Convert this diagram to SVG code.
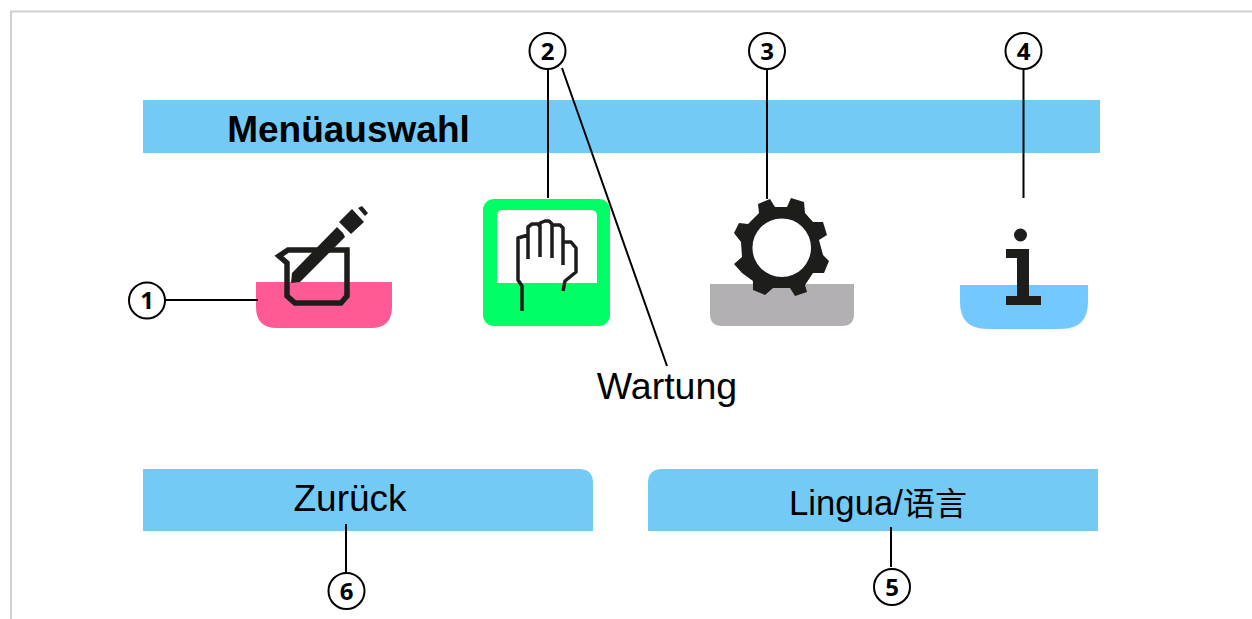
<svg xmlns="http://www.w3.org/2000/svg" width="1252" height="619" viewBox="0 0 1252 619">
<style>
.bar{fill:#73caf5}
.ic{fill:#1d1d1b}
.ol{fill:none;stroke:#1d1d1b;stroke-width:5.5;stroke-linejoin:miter}
.hand{fill:none;stroke:#1d1d1b;stroke-width:3.500;stroke-linejoin:round}
.cn{fill:none;stroke:#000;stroke-width:2}
.c{fill:#fff;stroke:#000;stroke-width:2}
.n{font-family:"Open Sans","Liberation Sans",sans-serif;font-weight:700;font-size:24px;text-anchor:middle;fill:#000}
.t{font-family:"Liberation Sans","Noto Sans CJK SC",sans-serif;font-size:37px;fill:#000;text-anchor:middle}
</style>
<rect width="1252" height="619" fill="#fff"/>
<path d="M11 619V11.500H1252" fill="none" stroke="#d0d0d0" stroke-width="2"/>
<g id="header"><rect class="bar" x="143" y="100" width="957" height="53"/><text x="348.500" y="142" font-family="Liberation Sans, sans-serif" font-weight="700" font-size="37" text-anchor="middle">Menüauswahl</text></g>
<g id="measure">
<path d="M256 282H392V307Q392 328 371 328H277Q256 328 256 307Z" fill="#ff5a96"/>
<path class="ol" d="M279 256L288 250H347V296L341 303H295L287 296V263Z"/>
<path class="ic" d="M291 283L292 273L337 227L343 233L345 237L300 282Z"/>
<path class="ic" d="M339 222L352 209L364 222L351 234Z"/>
<path class="ic" d="M358 208L362 206L368 213L365 216Z"/>
</g>
<g id="maintenance">
<rect x="483" y="199" width="127" height="127" rx="11" fill="#00ff66"/>
<path d="M497 216Q497 210 503 210H591Q597 210 597 216V283H497Z" fill="#fff"/>
<path class="hand" d="M522 311V286L518 280V238L528 235M528 259V227L532 224H538L540 227V257M540 227V223L545 221H549L552 224V258M552 225H560L563 228V265M563 242H571L576 248V272L565 281L563 291"/>
</g>
<g id="settings">
<path d="M710 284H854V314Q854 326 842 326H722Q710 326 710 314Z" fill="#b2b0b2"/>
<path class="ic" fill-rule="evenodd" d="M758 204L770 199L775 207H787L791 198L804 202L805 213L813 222H823L827 235L819 240L823 255L829 261L824 273L813 273L805 285L807 292L795 296L790 288H773L765 295L753 290V281L742 273L734 264L742 257L741 242L734 233L739 223L748 224L759 213Z M781.700 218.400A29.300 29.300 0 1 0 781.800 277A29.300 29.300 0 1 0 781.700 218.400Z"/>
</g>
<g id="info">
<path d="M960 285H1088V302Q1088 329 1061 329H987Q960 329 960 302Z" fill="#73c8ff"/>
<circle class="ic" cx="1020.500" cy="235" r="6.500"/>
<path class="ic" d="M1006 249H1029V296H1041V305H1006V296H1017V258H1006Z"/>
</g>
<g id="label-wartung"><text class="t" x="667" y="399" style="font-size:37.500px">Wartung</text></g>
<g id="back"><path class="bar" d="M143 469H579Q593 469 593 483V531H143Z"/><text class="t" x="350" y="511">Zurück</text></g>
<g id="language"><path class="bar" d="M662 469H1098V531H648V483Q648 469 662 469Z"/><text class="t" x="878" y="515" style="font-size:34.700px">Lingua/<tspan style="font-size:32px">语言</tspan></text></g>
<g id="connectors">
<path class="cn" d="M165 300H258M548 68V198M562 68L667 366M767 68V199M1023.500 68V198M346 524V574M891 527V567"/>
</g>
<g id="callout-1"><circle class="c" cx="147" cy="300.500" r="18"/><text class="n" x="147" y="309">1</text></g>
<g id="callout-2"><circle class="c" cx="547.500" cy="51" r="18"/><text class="n" x="547.500" y="59.500">2</text></g>
<g id="callout-3"><circle class="c" cx="767" cy="51" r="18"/><text class="n" x="767" y="59.500">3</text></g>
<g id="callout-4"><circle class="c" cx="1023.500" cy="51" r="18"/><text class="n" x="1023.500" y="59.500">4</text></g>
<g id="callout-5"><circle class="c" cx="892" cy="587" r="18"/><text class="n" x="892" y="595.500">5</text></g>
<g id="callout-6"><circle class="c" cx="346.500" cy="591" r="18"/><text class="n" x="346.500" y="599.500">6</text></g>
</svg>
